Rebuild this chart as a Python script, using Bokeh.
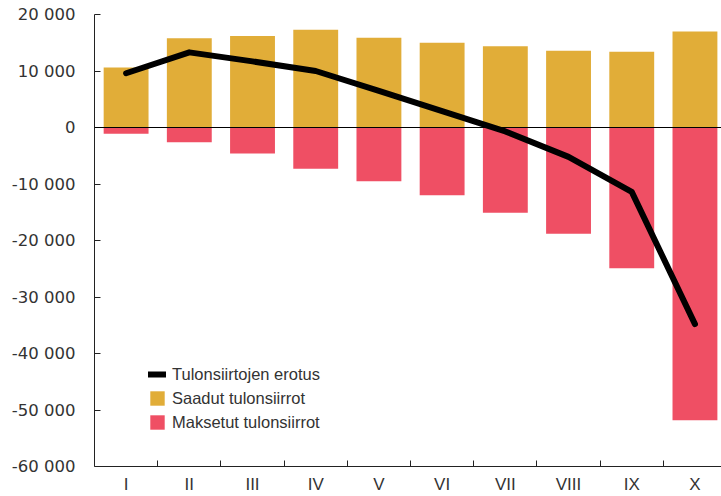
from bokeh.plotting import figure
from bokeh.models import Range1d, FixedTicker, Span, Legend, LegendItem
from bokeh.embed import file_html
from bokeh.resources import INLINE

categories = ["I", "II", "III", "IV", "V", "VI", "VII", "VIII", "IX", "X"]
saadut = [10600, 15800, 16200, 17300, 15900, 15000, 14400, 13600, 13400, 17000]
maksetut = [-1100, -2600, -4600, -7300, -9500, -12000, -15100, -18800, -24900, -51800]
erotus = [9600, 13300, 11700, 10000, 6500, 2900, -700, -5200, -11400, -34800]
y_ticks = [-60000, -50000, -40000, -30000, -20000, -10000, 0, 10000, 20000]
y_tick_labels = ["-60 000", "-50 000", "-40 000", "-30 000", "-20 000", "-10 000", "0", "10 000", "20 000"]

GOLD = "#E1AD38"
RED = "#EF4F64"
TXT = "#333333"

x = [i + 0.5 for i in range(len(categories))]

p = figure(width=721, height=496, output_backend="svg", toolbar_location=None,
           x_range=Range1d(0, 9.92), y_range=Range1d(-60000, 20000))
p.min_border_left = 94
p.min_border_right = 0
p.min_border_top = 14
p.min_border_bottom = 30
p.outline_line_color = None
p.xgrid.visible = False
p.ygrid.visible = False
p.background_fill_color = "white"
p.border_fill_color = "white"

r_s = p.vbar(x=x, top=saadut, bottom=0, width=0.71, fill_color=GOLD, line_color=None)
r_m = p.vbar(x=x, top=maksetut, bottom=0, width=0.71, fill_color=RED, line_color=None)
p.add_layout(Span(location=0, dimension="width", line_color="black", line_width=1))
r_l = p.line(x=x, y=erotus, line_color="black", line_width=6, line_cap="round", line_join="round")

# axes
xa = p.xaxis[0]
xa.ticker = FixedTicker(ticks=x, minor_ticks=[i for i in range(1, len(categories))])
xa.major_label_overrides = {xi: c for xi, c in zip(x, categories)}
xa.major_tick_line_color = None
xa.minor_tick_in = 6
xa.minor_tick_out = 0
xa.minor_tick_line_color = "#222222"
xa.axis_line_color = "#222222"
xa.major_label_text_font = "Liberation Sans"
xa.major_label_text_font_size = "17px"
xa.major_label_text_color = TXT
xa.major_label_standoff = 2

ya = p.yaxis[0]
ya.ticker = FixedTicker(ticks=y_ticks)
ya.major_label_overrides = {t: l for t, l in zip(y_ticks, y_tick_labels)}
ya.major_tick_in = 6
ya.major_tick_out = 0
ya.minor_tick_line_color = None
ya.major_tick_line_color = "#222222"
ya.axis_line_color = "#222222"
ya.major_label_text_font = "DejaVu Sans"
ya.major_label_text_font_size = "16.5px"
ya.major_label_text_color = TXT
ya.major_label_standoff = 19

legend = Legend(items=[
    LegendItem(label="Tulonsiirtojen erotus", renderers=[r_l]),
    LegendItem(label="Saadut tulonsiirrot", renderers=[r_s]),
    LegendItem(label="Maksetut tulonsiirrot", renderers=[r_m]),
], location=(54, 34))
legend.glyph_width = 18
legend.glyph_height = 18
legend.label_height = 20
legend.spacing = 4
legend.padding = 0
legend.margin = 0
legend.label_standoff = 6
legend.border_line_color = None
legend.background_fill_alpha = 0
legend.label_text_font = "Liberation Sans"
legend.label_text_font_size = "16.5px"
legend.label_text_color = TXT
p.add_layout(legend)

open("out.html", "w").write(file_html(p, INLINE))
